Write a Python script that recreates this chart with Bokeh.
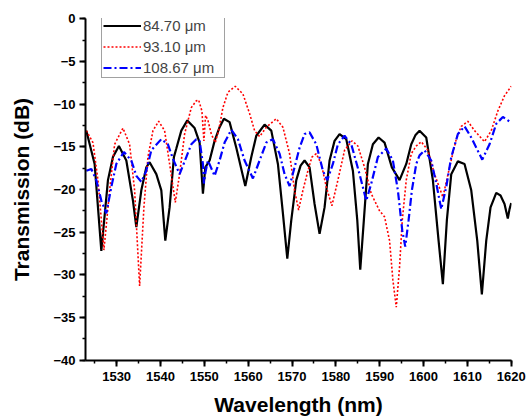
from bokeh.plotting import figure
from bokeh.models import Range1d, SingleIntervalTicker, Legend, LegendItem
from bokeh.embed import file_html
from bokeh.resources import INLINE

# ---- data ----
wl_a = [1523.09, 1524.98, 1526.51, 1528.02, 1529.16, 1530.52, 1532.21, 1533.72, 1534.49, 1535.63,
        1536.77, 1537.52, 1539.05, 1540.19, 1541.10, 1542.08, 1543.06, 1543.61, 1544.75, 1546.12,
        1547.78, 1548.92, 1549.68, 1550.22, 1551.20, 1552.34, 1553.48, 1554.46, 1555.76, 1557.29,
        1559.34, 1560.71, 1561.85, 1563.74, 1565.27, 1566.78, 1567.92, 1568.92, 1569.83, 1570.97,
        1571.95, 1572.86, 1574.00, 1575.14, 1576.28, 1577.42, 1578.56, 1579.70, 1580.84, 1582.37,
        1583.88, 1584.88, 1585.56, 1586.38, 1587.30, 1588.44, 1589.74, 1591.10, 1592.77, 1594.52,
        1596.05, 1597.19, 1598.17, 1599.08, 1600.61, 1602.12, 1603.42, 1604.40, 1605.31, 1606.31,
        1607.82, 1609.34, 1610.87, 1612.24, 1613.29, 1614.29, 1615.27, 1616.57, 1617.55, 1618.46,
        1619.21, 1619.60, 1619.99]
t_a = [-13.1, -17.0, -27.2, -18.9, -16.2, -14.9, -16.6, -21.3, -24.4, -20.1,
       -17.4, -16.8, -18.2, -20.1, -26.0, -22.1, -16.2, -15.2, -13.1, -11.9,
       -12.8, -14.5, -20.5, -17.4, -16.6, -14.3, -12.7, -11.7, -12.1, -15.1,
       -19.6, -16.2, -13.7, -12.4, -13.1, -17.0, -22.8, -28.1, -23.6, -18.9,
       -17.2, -16.6, -17.4, -21.7, -25.2, -22.1, -16.6, -14.3, -13.5, -14.1,
       -17.8, -23.6, -29.4, -23.6, -17.0, -14.7, -13.9, -14.5, -17.4, -18.9,
       -17.0, -14.7, -13.6, -13.1, -13.9, -18.9, -26.0, -31.1, -23.6, -18.2,
       -16.7, -17.0, -20.1, -26.0, -32.3, -26.0, -22.1, -20.4, -20.7, -21.7,
       -23.4, -22.3, -21.6]

wl_b = [1523.09, 1524.60, 1525.74, 1527.10, 1528.40, 1529.54, 1531.44, 1532.96, 1534.10, 1535.24,
        1536.22, 1537.14, 1538.28, 1539.58, 1540.94, 1542.08, 1543.38, 1544.36, 1545.50, 1547.03,
        1548.17, 1548.70, 1549.45, 1549.90, 1550.29, 1550.82, 1551.59, 1552.50, 1553.26, 1554.24,
        1555.38, 1557.06, 1558.80, 1560.32, 1561.46, 1562.60, 1564.13, 1566.41, 1567.92, 1569.44,
        1570.58, 1571.50, 1572.48, 1573.62, 1574.53, 1575.53, 1576.67, 1577.81, 1579.09, 1580.46,
        1581.98, 1583.65, 1585.02, 1586.54, 1588.07, 1589.96, 1591.10, 1592.24, 1593.00, 1593.77,
        1594.52, 1595.14, 1596.05, 1597.19, 1598.33, 1599.47, 1600.98, 1602.50, 1604.40, 1605.92,
        1607.45, 1608.59, 1610.10, 1611.62, 1613.90, 1615.43, 1616.93, 1618.46, 1619.99]
t_b = [-13.1, -14.5, -18.9, -27.1, -20.1, -14.7, -12.8, -14.7, -20.1, -31.3,
       -22.1, -16.2, -13.1, -12.0, -13.1, -17.0, -21.5, -18.2, -13.5, -10.4,
       -9.6, -9.5, -10.8, -14.3, -11.3, -11.9, -13.5, -14.5, -13.1, -10.4,
       -8.6, -7.9, -8.8, -11.1, -13.1, -13.8, -12.7, -11.7, -12.7, -15.8,
       -20.1, -22.4, -20.1, -17.8, -16.2, -15.8, -17.0, -19.7, -21.9, -18.9,
       -15.4, -14.3, -14.9, -17.4, -20.5, -22.5, -23.2, -26.0, -30.6, -33.8,
       -29.1, -23.6, -18.9, -15.8, -14.9, -14.4, -15.4, -18.2, -20.9, -17.4,
       -14.1, -12.6, -12.0, -13.1, -14.4, -13.1, -10.8, -9.0, -7.9]

wl_c = [1523.09, 1524.23, 1525.37, 1526.51, 1527.65, 1528.79, 1529.93, 1531.66, 1533.35, 1534.49,
        1535.63, 1536.77, 1537.91, 1540.19, 1541.70, 1542.84, 1544.36, 1545.89, 1547.03, 1548.17,
        1548.92, 1549.68, 1549.90, 1550.29, 1550.82, 1552.34, 1553.48, 1554.62, 1556.15, 1557.66,
        1559.18, 1561.08, 1562.60, 1564.13, 1565.64, 1567.16, 1568.30, 1569.44, 1570.58, 1571.72,
        1572.86, 1574.00, 1575.53, 1577.04, 1578.04, 1579.32, 1580.46, 1581.98, 1583.51, 1585.40,
        1586.93, 1588.07, 1589.58, 1591.49, 1593.00, 1594.14, 1595.14, 1595.82, 1596.58, 1597.33,
        1598.33, 1599.08, 1600.22, 1601.75, 1602.89, 1604.03, 1605.17, 1606.31, 1607.82, 1609.34,
        1610.87, 1613.38, 1615.04, 1616.57, 1618.08, 1619.83]
t_c = [-17.8, -17.6, -18.9, -21.3, -22.8, -19.7, -17.0, -15.6, -16.6, -18.4,
       -19.1, -17.8, -15.4, -14.1, -14.7, -16.4, -18.2, -16.2, -14.7, -14.1,
       -14.3, -17.0, -19.3, -17.9, -16.6, -18.4, -16.6, -14.5, -13.0, -14.1,
       -16.6, -18.7, -16.6, -14.5, -14.1, -15.8, -18.2, -19.6, -17.4, -15.1,
       -13.5, -13.3, -14.7, -17.8, -18.9, -17.0, -14.7, -13.7, -14.7, -18.2,
       -21.3, -19.3, -16.2, -15.2, -16.6, -20.1, -24.8, -26.7, -23.6, -20.1,
       -17.0, -16.0, -15.4, -16.6, -19.3, -22.3, -19.7, -16.2, -13.5, -12.6,
       -13.9, -16.5, -14.7, -12.3, -11.5, -12.1]

labels = ["84.70 \u03bcm", "93.10 \u03bcm", "108.67 \u03bcm"]
x_title = "Wavelength (nm)"
y_title = "Transmission (dB)"

FONT = "Liberation Sans"

p = figure(width=532, height=420, output_backend="svg", toolbar_location=None,
           x_range=Range1d(1522.9, 1620.05), y_range=Range1d(-40.05, 0.05),
           min_border_left=85, min_border_right=21, min_border_top=18, min_border_bottom=60)
p.outline_line_color = None
p.xgrid.visible = False
p.ygrid.visible = False
p.background_fill_color = "white"
p.border_fill_color = "white"

r1 = p.line(wl_a, t_a, line_color="black", line_width=2.2)
r2 = p.line(wl_b, t_b, line_color="#ff0000", line_width=1.6, line_dash="2 2")
r3 = p.line(wl_c, t_c, line_color="#0000ff", line_width=2.2, line_dash="8 3 2 3")

p.xaxis.ticker = SingleIntervalTicker(interval=10, num_minor_ticks=2)
p.yaxis.ticker = SingleIntervalTicker(interval=5, num_minor_ticks=2)

for ax in (p.xaxis[0], p.yaxis[0]):
    ax.axis_line_width = 2
    ax.axis_line_color = "black"
    ax.major_tick_line_width = 2
    ax.minor_tick_line_width = 1.5
    ax.major_tick_out = 6
    ax.major_tick_in = 0
    ax.minor_tick_out = 3
    ax.minor_tick_in = 0
    ax.major_label_text_font = FONT
    ax.major_label_text_font_style = "bold"
    ax.major_label_text_font_size = "13px"
    ax.major_label_text_color = "black"
    ax.axis_label_text_font = FONT
    ax.axis_label_text_font_style = "bold"
    ax.axis_label_text_font_size = "21px"
    ax.axis_label_text_color = "black"

p.xaxis.axis_label = x_title
p.yaxis.axis_label = y_title
p.xaxis.major_label_standoff = 5
p.xaxis.axis_label_standoff = 9
p.yaxis.major_label_standoff = 4
p.yaxis.axis_label_standoff = 17

legend = Legend(items=[LegendItem(label=labels[0], renderers=[r1]),
                       LegendItem(label=labels[1], renderers=[r2]),
                       LegendItem(label=labels[2], renderers=[r3])],
                location=(16, 282), padding=1, spacing=4, margin=0,
                glyph_width=38, glyph_height=17, label_height=17, label_width=80,
                label_standoff=2,
                label_text_font=FONT, label_text_font_size="15px",
                border_line_color="#444444", border_line_width=1,
                background_fill_color="white", background_fill_alpha=1)
p.add_layout(legend)

open("out.html", "w").write(file_html(p, INLINE))
